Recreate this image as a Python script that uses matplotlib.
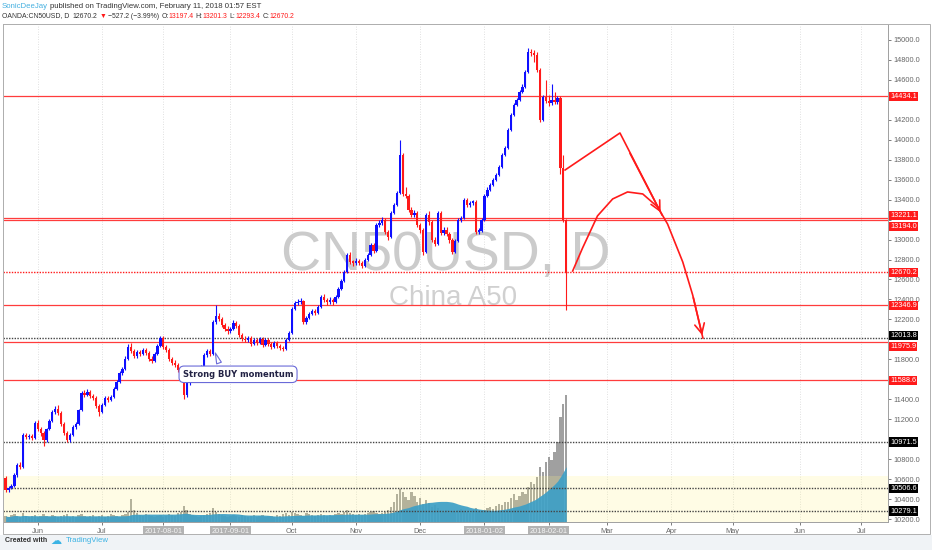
import numpy as np
import pandas as pd
import matplotlib
matplotlib.use("Agg")
import matplotlib.pyplot as plt
from matplotlib import transforms as mtrans
from matplotlib.patches import Rectangle

plt.rcParams['font.family'] = ['Liberation Sans', 'DejaVu Sans']

# daily bars, OANDA:CN50USD, 2017-05-17 .. 2018-02-09 (weekdays)
first_open = 10610
close = [10490, 10510, 10530, 10640, 10740, 10720, 11040, 11020, 11030, 11010, 11160,
         11100, 11060, 10990, 11100, 11180, 11270, 11300, 11260, 11150, 11060,
         10990, 11040, 11120, 11150, 11290, 11460, 11440, 11470, 11430, 11410,
         11330, 11270, 11340, 11410, 11390, 11420, 11500, 11570, 11660, 11700,
         11800, 11920, 11880, 11830, 11870, 11850, 11890, 11860, 11800, 11780,
         11850, 11930, 12010, 11920, 11890, 11800, 11760, 11740, 11690, 11640,
         11440, 11560, 11600, 11650, 11680, 11660, 11720, 11840, 11880, 11850,
         12170, 12230, 12200, 12140, 12100, 12080, 12100, 12160, 12130, 12040,
         12000, 11990, 12010, 11950, 11990, 11960, 12000, 11940, 11990, 11950,
         11920, 11960, 11930, 11910, 11900, 11990, 12060, 12300, 12360, 12370,
         12380, 12170, 12210, 12250, 12280, 12260, 12320, 12420, 12390, 12370,
         12390, 12370, 12420, 12500, 12580, 12680, 12850, 12780, 12770, 12790,
         12770, 12740, 12800, 12850, 12950, 12890, 13150, 13170, 13200, 13080,
         13030, 13270, 13350, 13470, 13850, 13460, 13440, 13300, 13250, 13270,
         13150, 13100, 12880, 13250, 13180, 13000, 12960, 13270, 13070, 13100,
         13060, 13000, 12880, 12990, 13200, 13220, 13400, 13350, 13370, 13380,
         13080, 13090, 13200, 13440, 13500, 13550, 13600, 13650, 13730, 13850,
         13920, 14100, 14250, 14350, 14400, 14480, 14530, 14680, 14880, 14870,
         14850, 14700, 14200, 14430, 14390, 14370, 14400, 14380, 14420, 13720,
         13197.4, 12670.2]
high = [10630, 10530, 10550, 10660, 10760, 10770, 11060, 11060, 11050, 11050, 11180,
        11190, 11120, 11080, 11110, 11200, 11290, 11330, 11340, 11280, 11170,
        11080, 11060, 11140, 11170, 11300, 11480, 11490, 11500, 11490, 11450,
        11430, 11350, 11360, 11430, 11430, 11440, 11520, 11590, 11680, 11720,
        11830, 11950, 11960, 11900, 11890, 11890, 11910, 11910, 11880, 11830,
        11870, 11950, 12030, 12030, 11940, 11910, 11820, 11790, 11760, 11710,
        11660, 11580, 11620, 11670, 11700, 11700, 11740, 11860, 11900, 11900,
        12190, 12345, 12260, 12220, 12160, 12130, 12120, 12190, 12180, 12150,
        12060, 12030, 12030, 12030, 12010, 12010, 12020, 12020, 12010, 12010,
        11970, 11980, 11980, 11950, 11930, 12010, 12080, 12320, 12380, 12400,
        12410, 12390, 12230, 12270, 12300, 12300, 12340, 12440, 12450, 12410,
        12420, 12410, 12440, 12520, 12600, 12700, 12870, 12880, 12800, 12820,
        12810, 12790, 12820, 12870, 12970, 12970, 13170, 13200, 13230, 13220,
        13100, 13290, 13370, 13490, 14000, 13870, 13530, 13460, 13330, 13300,
        13290, 13170, 13120, 13270, 13290, 13200, 13030, 13290, 13290, 13130,
        13130, 13080, 13020, 13010, 13220, 13240, 13420, 13420, 13390, 13400,
        13400, 13120, 13220, 13460, 13530, 13570, 13620, 13670, 13750, 13870,
        13940, 14120, 14270, 14370, 14420, 14500, 14560, 14700, 14920, 14910,
        14900, 14880, 14720, 14450, 14600, 14450, 14560, 14480, 14440, 14440,
        13850, 13201.3]
low = [10470, 10470, 10500, 10520, 10620, 10700, 10710, 11000, 11000, 10990, 11000,
       11080, 11030, 10930, 10970, 11090, 11170, 11250, 11240, 11130, 11040,
       10970, 10970, 11030, 11100, 11140, 11280, 11420, 11430, 11410, 11390,
       11310, 11230, 11260, 11330, 11370, 11380, 11410, 11490, 11560, 11640,
       11690, 11790, 11860, 11810, 11810, 11830, 11840, 11840, 11780, 11760,
       11770, 11840, 11920, 11900, 11870, 11780, 11740, 11720, 11670, 11620,
       11400, 11420, 11540, 11590, 11630, 11640, 11650, 11710, 11820, 11830,
       11840, 12150, 12180, 12120, 12080, 12050, 12060, 12090, 12110, 12020,
       11980, 11970, 11970, 11930, 11940, 11940, 11950, 11920, 11930, 11930,
       11900, 11910, 11910, 11890, 11880, 11890, 11980, 12050, 12290, 12340,
       12350, 12150, 12150, 12200, 12240, 12240, 12250, 12310, 12370, 12340,
       12350, 12340, 12360, 12410, 12490, 12570, 12670, 12760, 12740, 12750,
       12750, 12720, 12730, 12790, 12840, 12870, 12880, 13130, 13150, 13060,
       13000, 13020, 13260, 13340, 13460, 13440, 13420, 13280, 13230, 13230,
       13130, 13070, 12850, 12870, 13150, 12980, 12940, 12950, 13050, 13050,
       13040, 12970, 12860, 12870, 12980, 13180, 13210, 13330, 13330, 13350,
       13060, 13060, 13080, 13190, 13430, 13490, 13540, 13590, 13640, 13720,
       13840, 13910, 14090, 14240, 14340, 14390, 14470, 14520, 14670, 14840,
       14780, 14680, 14180, 14190, 14370, 14340, 14350, 14360, 14360, 13660,
       13180, 12293.4]
volume = [6, 5, 7, 8, 6, 5, 9, 6, 5, 6, 7,
          5, 6, 8, 6, 5, 7, 6, 5, 6, 7, 8, 5, 6, 5, 7, 8, 6, 5, 6, 7, 5, 6, 7, 5, 6, 8, 7, 6, 5, 7,
          8, 10, 23, 12, 9, 7, 6, 8, 7, 6, 5,
          6, 7, 5, 6, 8, 7, 6, 9, 10, 16, 12, 8, 7, 6, 5, 6, 7, 8, 9, 14, 10, 8, 7, 6, 5, 6, 7, 6, 5, 7,
          6, 5, 6, 7, 5, 6, 7, 5, 6, 6, 5, 7, 6, 8, 9, 7,
          10, 9, 8, 7, 6, 9, 8, 7, 6, 7, 8, 7, 6, 7, 6, 8, 9, 8, 10, 12, 9, 8, 7, 8, 7, 8, 9, 10, 11, 9,
          8, 9, 10, 12,
          15, 20, 28, 33, 30, 25, 22, 30, 26, 20, 24, 18, 22, 19, 15, 17, 14, 12, 10, 12,
          9, 11, 10, 12, 13, 11, 10, 9, 12, 14, 10, 11, 12, 14, 15, 13, 16, 18, 17, 20,
          20, 24, 28, 22, 26, 30, 28, 35, 40, 38, 45,
          55, 50, 60, 65, 62, 70, 80, 105, 118, 127]

tick_dates = ['2017-06-01', '2017-07-03', '2017-08-01', '2017-09-01', '2017-10-02', '2017-11-01',
              '2017-12-01', '2018-01-02', '2018-02-01', '2018-03-01', '2018-04-02', '2018-05-01',
              '2018-06-01', '2018-07-02']
tick_labels = ['Jun', 'Jul', '2017-08-01', '2017-09-01', 'Oct', 'Nov', 'Dec',
               '2018-01-02', '2018-02-01', 'Mar', 'Apr', 'May', 'Jun', 'Jul']
boxed = ['2017-08-01', '2017-09-01', '2018-01-02', '2018-02-01']
# price labels that sit under a level tag
hidden_price_labels = [14400, 13200, 12000, 11600, 11000]

red_levels = [14434.1, 13221.1, 13194.0, 12346.9, 11975.9, 11588.6]
black_levels = [12013.8, 10971.5, 10506.6, 10279.1]
last_price = 12670.2
band_top = 10630

# hand drawings (bar index, price)
zig_x = [191.6, 210.4, 224.8]
zig_y = [13697, 14068, 13247]
arc_x = [194.2, 197.6, 202.7, 207.9, 213.0, 218.2, 223.3, 226.7, 231.9, 235.3, 238.8]
arc_y = [12685, 12916, 13237, 13407, 13477, 13457, 13327, 13156, 12776, 12445, 12014]

RED = '#ff1a1a'
BLUE = '#0f0fff'

close = np.array(close, float)
openp = np.r_[first_open, close[:-1]]
high = np.maximum(np.array(high, float), np.maximum(openp, close))
low = np.minimum(np.array(low, float), np.minimum(openp, close))
volume = np.array(volume, float)
n = len(close)
x = np.arange(n)
days = pd.bdate_range('2017-05-17', '2018-07-31')
tick_pos = days.get_indexer(pd.to_datetime(tick_dates))

fig = plt.figure(figsize=(9.32, 5.5), dpi=100)
fig.patch.set_facecolor('white')
rect = [3 / 932, 28 / 550, 885 / 932, 498 / 550]

# volume axes sits underneath the price axes
axv = fig.add_axes(rect)
ax = fig.add_axes(rect)
ax.set_xlim(-0.9, 302.2)
ax.set_ylim(10170, 15160)
axv.set_xlim(ax.get_xlim())
axv.set_ylim(0, 498)
axv.axis('off')
ax.patch.set_visible(False)

for p in tick_pos:
    axv.axvline(p, color='#d6d6d6', lw=0.6, ls=(0, (1, 2)), zorder=0.5)

axv.bar(x, volume, width=0.8, color='#808080', alpha=0.75, lw=0, zorder=1)
# translucent band drawn over the volume bars
bandtr = mtrans.blended_transform_factory(axv.transAxes, ax.transData)
axv.add_patch(Rectangle((0, 10170), 1, band_top - 10170, transform=bandtr,
                        fc=(1.0, 0.96, 0.55), alpha=0.22, ec='none', zorder=1.5))
vol_ma = pd.Series(volume).rolling(20, min_periods=1).mean()
axv.fill_between(x, 0, vol_ma, color='#3d9fc6', alpha=0.92, lw=0, zorder=2)

# watermark
ax.text(0.5, 0.535, 'CN50USD, D', transform=ax.transAxes, ha='center', va='center',
        fontsize=40, color='#cbcbcb', zorder=1)
ax.text(0.508, 0.45, 'China A50', transform=ax.transAxes, ha='center', va='center',
        fontsize=20, color='#d0d0d0', zorder=1)

# levels
for lv in red_levels:
    ax.axhline(lv, color=RED, lw=0.9, alpha=0.85, zorder=2)
for lv in black_levels:
    ax.axhline(lv, color='#444444', lw=1.0, ls=(0, (1, 1)), zorder=2)
ax.axhline(last_price, color=RED, lw=1.0, ls=(0, (1, 1)), zorder=2)

# candles
up = close >= openp
cols = np.where(up, BLUE, RED)
ax.vlines(x, low, high, colors=cols, lw=0.8, zorder=3)
body_lo = np.minimum(openp, close)
body_h = np.maximum(np.abs(close - openp), 12)
ax.bar(x, body_h, bottom=body_lo, width=0.78, color=cols, lw=0, zorder=4)

# drawings
ax.plot(zig_x, zig_y, color=RED, lw=1.2, zorder=5)
ax.annotate('', xy=(zig_x[-1], zig_y[-1]), xytext=(zig_x[-2] + 3, zig_y[-2] - 180),
            arrowprops=dict(arrowstyle='->,head_length=0.7,head_width=0.35', color=RED, lw=1.2),
            zorder=5)
ax.plot(arc_x, arc_y, color=RED, lw=1.2, zorder=5)
ax.annotate('', xy=(arc_x[-1], arc_y[-1]), xytext=(arc_x[-2], arc_y[-2]),
            arrowprops=dict(arrowstyle='->,head_length=0.7,head_width=0.35', color=RED, lw=1.2),
            zorder=5)

# callout
ax.annotate('Strong BUY momentum', xy=(71.5, 11890), xytext=(79.6, 11650),
            fontsize=6, fontweight='bold', color='#222244', ha='center', va='center',
            family='DejaVu Sans',
            bbox=dict(boxstyle='round,pad=0.45,rounding_size=0.6', fc='white', ec='#6a6ad8', lw=0.8),
            arrowprops=dict(arrowstyle='wedge,tail_width=0.6,shrink_factor=0.5', fc='white',
                            ec='#6a6ad8', lw=0.8, relpos=(0.35, 1.0)), zorder=6)

# price axis
ax.yaxis.tick_right()
yt = np.arange(10200, 15001, 200)
ax.set_yticks(yt)
ax.set_yticklabels(['' if v in hidden_price_labels else f'{v:.1f}' for v in yt])
ax.tick_params(axis='y', labelsize=5.3, colors='#666666', length=2, pad=2, width=0.6)
ax.set_xticks(tick_pos)
ax.set_xticklabels(tick_labels)
ax.tick_params(axis='x', labelsize=5.3, colors='#666666', length=2, pad=2, width=0.6)
for lab in ax.get_xticklabels():
    if lab.get_text() in boxed:
        lab.set_bbox(dict(fc='#b3b3b3', ec='none', pad=1.2))
        lab.set_color('#f4f4f4')
for sp in ax.spines.values():
    sp.set_color('#a0a0a0')
    sp.set_linewidth(0.7)

blend = mtrans.blended_transform_factory(ax.transAxes, ax.transData)
tags = [(14434.1, RED, 0), (13221.1, RED, 1.5), (13194.0, RED, -4.6), (last_price, RED, 0),
        (12346.9, RED, -0.5), (12013.8, 'black', 1.6), (11975.9, RED, -3.6), (11588.6, RED, 0),
        (10971.5, 'black', 0), (10506.6, 'black', 0), (10279.1, 'black', 0)]
for val, c, dy in tags:
    ax.annotate(f'{val:.1f}', xy=(1.0, val), xycoords=blend, xytext=(1.5, dy),
                textcoords='offset points', ha='left', va='center', fontsize=5.3, color='white',
                bbox=dict(boxstyle='square,pad=0.16', fc=c, ec='none'), zorder=10,
                annotation_clip=False)

# outer frame and footer
fig.add_artist(Rectangle((3 / 932, 16 / 550), 927 / 932, 510 / 550, transform=fig.transFigure,
                         fc='none', ec='#b0b0b0', lw=0.7))
fig.add_artist(Rectangle((0, 0), 1, 15 / 550, transform=fig.transFigure, fc='#f0f3f6', ec='none'))

renderer = fig.canvas.get_renderer()


def put_row(x0, y0, parts, size, weight='normal'):
    xx = x0
    for s, c, gap in parts:
        t = fig.text(xx / 932, 1 - y0 / 550, s, color=c, fontsize=size, va='center',
                     ha='left', fontweight=weight)
        w = t.get_window_extent(renderer).width
        xx += w + gap


DARK = '#333333'
put_row(2, 6, [('SonicDeeJay', '#45b0e0', 2.5),
               ('published on TradingView.com, February 11, 2018 01:57 EST', DARK, 0)], 5.6)
put_row(2, 16, [('OANDA:CN50USD, D', DARK, 3.5), ('12670.2', DARK, 1.8), ('▼', RED, 1.8),
                ('\u2212527.2 (\u22123.99%)', DARK, 2.2), ('O:', DARK, 0.3), ('13197.4', RED, 1.8),
                ('H:', DARK, 0.3), ('13201.3', RED, 1.8), ('L:', DARK, 0.3),
                ('12293.4', RED, 1.8), ('C:', DARK, 0.3), ('12670.2', RED, 0)], 4.95)
put_row(5, 541, [('Created with', DARK, 6)], 5.0, weight='bold')
fig.text(56 / 932, 1 - 541 / 550, '\u2601', color='#3bb3e4', fontsize=8, va='center',
         ha='center', family='DejaVu Sans')
put_row(66, 541, [('TradingView', '#3bb3e4', 0)], 5.6)

fig.savefig('out.png', dpi=100)
